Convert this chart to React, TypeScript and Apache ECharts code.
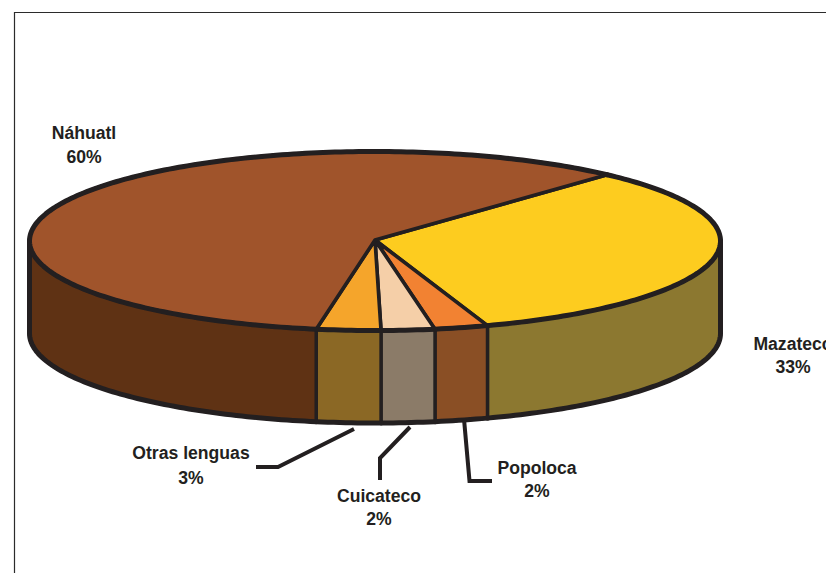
import React, { useEffect, useRef } from "react";
import * as echarts from "echarts";

// Slice order runs clockwise from the yellow slice's start on the rim.
const languages = ["Mazateco", "Popoloca", "Cuicateco", "Otras lenguas", "Náhuatl"];
const printedPercents = ["33%", "2%", "2%", "3%", "60%"];
// Shares as drawn in the picture (the small slices are drawn a little wider than printed).
const drawnShares = [33, 2.5, 2.5, 3, 59];

const topColors = ["#FDCC1F", "#F28232", "#F5CFA8", "#F5A52B", "#A0542B"];
const wallColors = ["#8C7830", "#8A4F25", "#8B7B68", "#8B6825", "#5F3214"];
const INK = "#231F20";

const CX = 375, CY = 241, RX = 345.5, RY = 89.5, DEPTH = 92.5, START_DEG = 47.8;

const labelCentres: [number, number, number][] = [
  [793, 344, 367], [537, 468, 491], [379, 496, 519], [191, 453, 478], [84, 133, 157],
];
const leaderPaths: ([number, number][] | null)[] = [
  null,
  [[464, 419], [469.5, 481], [492, 481]],
  [[410, 427], [380, 458], [380, 480]],
  [[354, 429], [278, 467], [256, 467]],
  null,
];

function sliceRange(index: number): [number, number] {
  const total = drawnShares.reduce((a, b) => a + b, 0);
  let before = 0;
  for (let i = 0; i < index; i++) before += drawnShares[i];
  const a0 = START_DEG - (before / total) * 360;
  const a1 = a0 - (drawnShares[index] / total) * 360;
  return [a0, a1];
}

function rim(deg: number, drop = 0): [number, number] {
  const r = (deg * Math.PI) / 180;
  return [CX + RX * Math.cos(r), CY - RY * Math.sin(r) + drop];
}

function arc(from: number, to: number, drop = 0): [number, number][] {
  const n = Math.max(2, Math.ceil(Math.abs(from - to)));
  const pts: [number, number][] = [];
  for (let i = 0; i <= n; i++) pts.push(rim(from + ((to - from) * i) / n, drop));
  return pts;
}

function renderWall(params: any) {
  const [a0, a1] = sliceRange(params.dataIndex);
  const from = Math.min(a0, 0);
  const to = Math.max(a1, -180);
  if (from <= to) return { type: "group", children: [] };
  const points = [...arc(from, to), ...arc(to, from, DEPTH)];
  const outer: [number, number][] = arc(from, to, DEPTH);
  if (from === 0) outer.unshift(rim(0));
  if (to === -180) outer.push(rim(-180));
  return {
    type: "group",
    children: [
      {
        type: "polygon",
        shape: { points },
        style: { fill: wallColors[params.dataIndex], stroke: INK, lineWidth: 3.4, lineJoin: "round" },
      },
      {
        type: "polyline",
        shape: { points: outer },
        style: { fill: "none", stroke: INK, lineWidth: 5, lineJoin: "round", lineCap: "round" },
      },
    ],
  };
}

function renderTop(params: any) {
  const i = params.dataIndex;
  const [a0, a1] = sliceRange(i);
  const rimPoints = arc(a0, a1);
  const children: any[] = [
    {
      type: "polygon",
      shape: { points: [[CX, CY - 1], ...rimPoints] },
      style: { fill: topColors[i], stroke: INK, lineWidth: 3.6, lineJoin: "round" },
    },
    {
      type: "polyline",
      shape: { points: rimPoints },
      style: { fill: "none", stroke: INK, lineWidth: 5, lineJoin: "round", lineCap: "round" },
    },
  ];
  const font = '700 17.6px "Liberation Sans", Arial, sans-serif';
  const [lx, ly1, ly2] = labelCentres[i];
  children.push(
    { type: "text", style: { text: languages[i], x: lx, y: ly1, fill: INK, font, align: "center", verticalAlign: "middle" } },
    { type: "text", style: { text: printedPercents[i], x: lx, y: ly2, fill: INK, font, align: "center", verticalAlign: "middle" } }
  );
  const leader = leaderPaths[i];
  if (leader) {
    children.push({
      type: "polyline",
      shape: { points: leader },
      style: { fill: "none", stroke: INK, lineWidth: 4, lineJoin: "miter" },
    });
  }
  return { type: "group", children };
}

export default function App() {
  const ref = useRef<HTMLDivElement>(null);
  useEffect(() => {
    const chart = echarts.init(ref.current!, undefined, { renderer: "svg" });
    const data = drawnShares.map((v, i) => ({ name: languages[i], value: [v] }));
    chart.setOption({
      animation: false,
      backgroundColor: "#ffffff",
      graphic: [
        {
          type: "rect",
          silent: true,
          z: -1,
          shape: { x: 14.5, y: 12.5, width: 1000, height: 1000 },
          style: { fill: "none", stroke: "#2b2b2b", lineWidth: 1.2 },
        },
      ],
      series: [
        { type: "custom", coordinateSystem: "none", silent: true, clip: false, renderItem: renderWall, data, z: 2 },
        { type: "custom", coordinateSystem: "none", silent: true, clip: false, renderItem: renderTop, data, z: 3 },
      ],
    });
    return () => chart.dispose();
  }, []);
  return (
    <div
      ref={ref}
      style={{ position: "absolute", left: 0, top: 0, width: 826, height: 573, overflow: "hidden" }}
    />
  );
}
